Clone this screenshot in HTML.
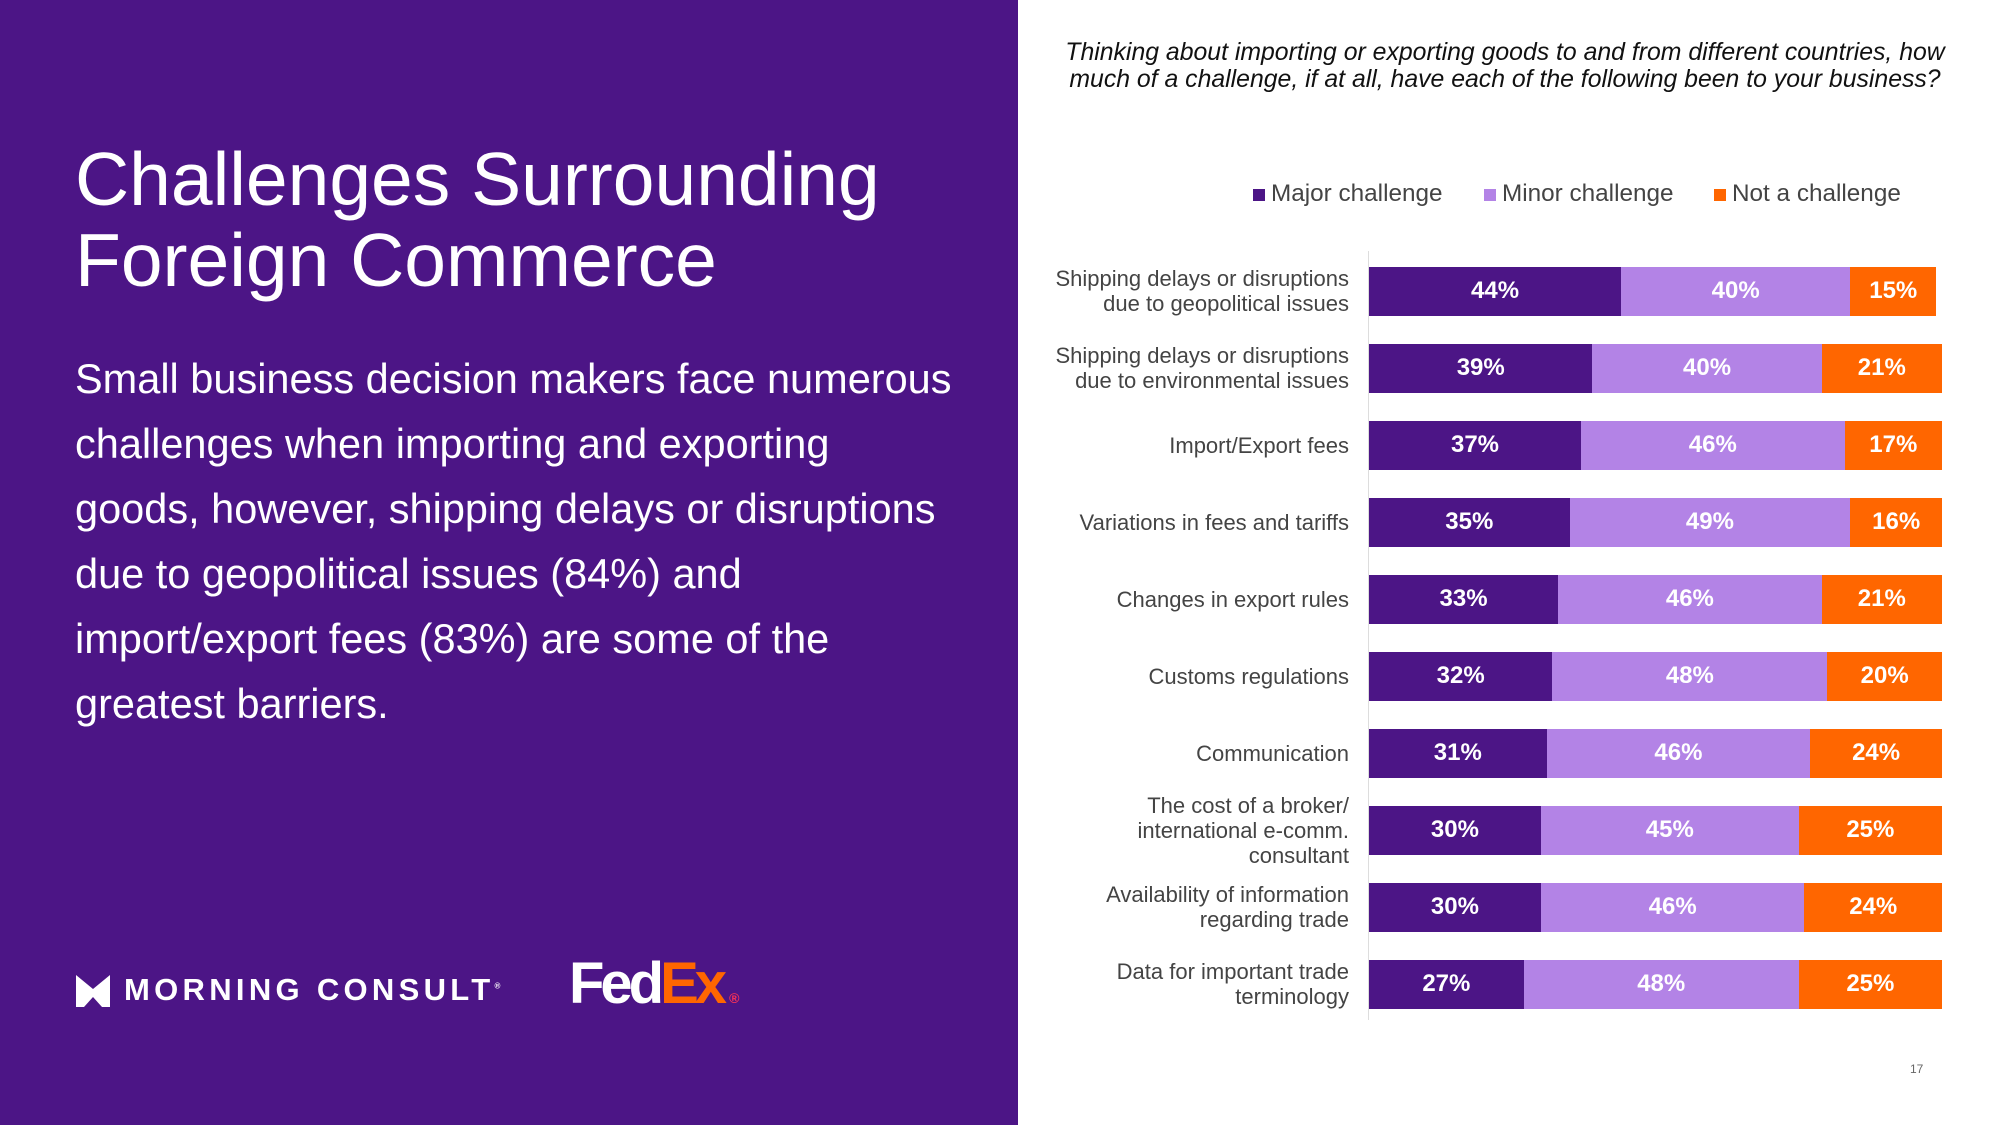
<!DOCTYPE html>
<html><head><style>
body{margin:0;width:2000px;height:1125px;position:relative;overflow:hidden;font-family:"Liberation Sans",sans-serif;background:#fff}
.left{position:absolute;left:0;top:0;width:1018px;height:1125px;background:#4c1586;color:#fff}
.t{position:absolute;left:75px;top:139px;font-size:75px;line-height:81px}
.b{position:absolute;left:75px;top:346px;font-size:41.5px;line-height:65px;width:960px;white-space:nowrap}
.q{position:absolute;left:1040px;width:930px;top:39px;text-align:center;font-style:italic;font-size:24.8px;line-height:27px;color:#111;white-space:nowrap}
.leg{position:absolute;top:180px;font-size:24.3px;color:#444}
.sq{position:absolute;width:12px;height:12px;top:189px}
.lab{position:absolute;right:651px;text-align:right;font-size:22px;line-height:25px;color:#444}
.bar{position:absolute;height:49px;display:flex;left:1369px}
.bar div{color:#fff;font-weight:bold;font-size:24px;display:flex;align-items:center;justify-content:center}
</style></head><body>
<div class="left">
<div class="t">Challenges Surrounding<br>Foreign Commerce</div>
<div class="b">Small business decision makers face numerous<br>challenges when importing and exporting<br>goods, however, shipping delays or disruptions<br>due to geopolitical issues (84%) and<br>import/export fees (83%) are some of the<br>greatest barriers.</div>
<svg style="position:absolute;left:76px;top:975px" width="34" height="32" viewBox="0 0 34 32"><path d="M0 0 L17 14 L34 0 L34 32 L26 32 L17 22 L8 32 L0 32Z" fill="#fff"/></svg>
<div style="position:absolute;left:124px;top:972px;font-size:31px;font-weight:bold;letter-spacing:4.3px">MORNING CONSULT<sup style="font-size:8px">®</sup></div>
<div style="position:absolute;left:569px;top:950px;font-size:58px;font-weight:bold;letter-spacing:-4px"><span style="color:#fff">Fed</span><span style="color:#ff6600">Ex</span><span style="font-size:14px;color:#ff3355;letter-spacing:0;margin-left:6px">®</span></div>
</div>
<div class="q">Thinking about importing or exporting goods to and from different countries, how<br>much of a challenge, if at all, have each of the following been to your business?</div>
<div class="sq" style="left:1253px;background:#4c1586"></div><div class="leg" style="left:1271px">Major challenge</div>
<div class="sq" style="left:1484px;background:#b383e6"></div><div class="leg" style="left:1502px">Minor challenge</div>
<div class="sq" style="left:1714px;background:#ff6600"></div><div class="leg" style="left:1732px">Not a challenge</div>
<div style="position:absolute;left:1368px;top:251px;width:1px;height:769px;background:#ddd"></div>
<div id="rows"></div>
<div style="position:absolute;left:1910px;top:1062px;font-size:12px;color:#666">17</div>
<script>
var d=[["Shipping delays or disruptions<br>due to geopolitical issues",44,40,15],["Shipping delays or disruptions<br>due to environmental issues",39,40,21],["Import/Export fees",37,46,17],["Variations in fees and tariffs",35,49,16],["Changes in export rules",33,46,21],["Customs regulations",32,48,20],["Communication",31,46,23],["The cost of a broker/<br>international e-comm.<br>consultant",30,45,25],["Availability of information<br>regarding trade",30,46,24],["Data for important trade<br>terminology",27,48,25]];
var t=["","","","","","","24","","",""];
var h="",u=5.73;
d.forEach(function(r,i){var c=291+i*77;var n=r[0].split("<br>").length;
h+='<div class="lab" style="top:'+(c-n*12.5)+'px">'+r[0]+'</div>';
h+='<div class="bar" style="top:'+(c-24.5)+'px"><div style="width:'+r[1]*u+'px;background:#4c1586">'+r[1]+'%</div><div style="width:'+r[2]*u+'px;background:#b383e6">'+r[2]+'%</div><div style="width:'+r[3]*u+'px;background:#ff6600">'+(t[i]||r[3])+'%</div></div>';});
document.getElementById("rows").innerHTML=h;
</script>
</body></html>
